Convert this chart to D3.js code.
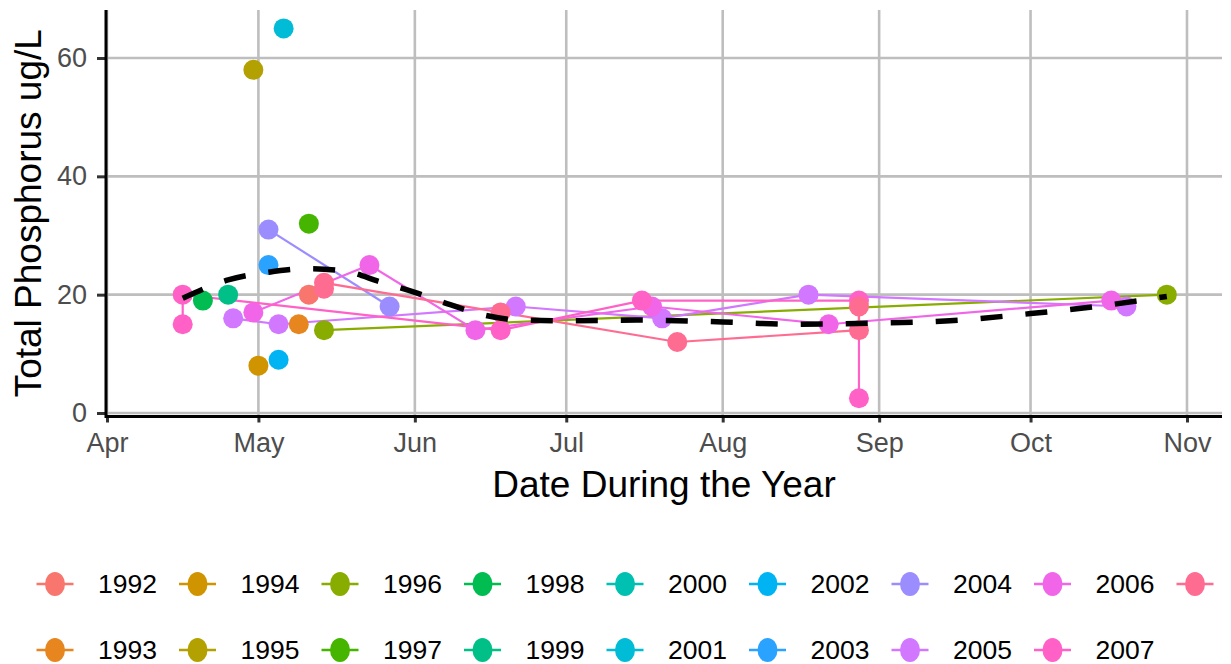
<!DOCTYPE html>
<html>
<head>
<meta charset="utf-8">
<script src="https://cdn.jsdelivr.net/npm/d3@7"></script>
<style>
  body { margin: 0; background: #fff; }
  text { font-family: "Liberation Sans", Arial, sans-serif; }
</style>
</head>
<body>
<div class="chart"></div>
<script>
// one entry per sample: year, day of the year (mm-dd), total phosphorus
const obsYear = [1992, 1993, 1994, 1995, 1996, 1996, 1997, 1998, 1999, 2001, 2002, 2003, 2004, 2004,
  2005, 2005, 2005, 2005, 2005, 2005,
  2006, 2006, 2006, 2006, 2006, 2006,
  2007, 2007, 2007, 2007, 2007, 2007,
  2008, 2008, 2008, 2008, 2008, 2008];
const obsDate = ["05-11", "05-09", "05-01", "04-30", "05-14", "10-28", "05-11", "04-20", "04-25", "05-06", "05-05", "05-03", "05-03", "05-27",
  "04-26", "05-05", "06-21", "07-20", "08-18", "10-20",
  "04-30", "05-23", "06-13", "07-18", "08-22", "10-17",
  "04-16", "04-16", "06-18", "07-16", "08-28", "08-28",
  "05-14", "05-14", "06-18", "07-23", "08-28", "08-28"];
const obsTP = [20, 15, 8, 58, 14, 20, 32, 19, 20, 65, 9, 25, 31, 18,
  16, 15, 18, 16, 20, 18,
  17, 25, 14, 18, 15, 19,
  15, 20, 14, 19, 19, 2.5,
  21, 22, 17, 12, 14, 18];

// smoothed trend (dashed)
const trendDate = ["04-16", "04-25", "05-03", "05-11", "05-18", "05-25", "06-01", "06-08", "06-15", "06-22",
  "07-01", "07-15", "08-01", "08-15", "09-01", "09-15", "10-01", "10-15", "10-28"];
const trendTP = [19.4, 22.5, 23.8, 24.4, 24.0, 22.2, 20.4, 18.3, 16.5, 15.7,
  15.6, 15.7, 15.4, 15.0, 15.2, 15.6, 16.8, 18.1, 19.7];

const years = ["1992", "1993", "1994", "1995", "1996", "1997", "1998", "1999", "2000",
  "2001", "2002", "2003", "2004", "2005", "2006", "2007", "2008"];
const yearColors = ["#F8766D", "#E7851E", "#D09400", "#B2A100", "#89AC00", "#45B500", "#00BC51", "#00C087", "#00C0B2",
  "#00BCD6", "#00B3F2", "#29A3FF", "#9C8DFF", "#D277FF", "#F166E8", "#FF61C7", "#FF6C91"];

const yTicks = [0, 20, 40, 60];
const monthTicks = ["04-01", "05-01", "06-01", "07-01", "08-01", "09-01", "10-01", "11-01"];

let dims = { width: 1231, height: 664 };
const panel = { left: 106, right: 1222, top: 10, bottom: 416.5 };

const toDate = (md) => new Date(Date.UTC(2001, +md.slice(0, 2) - 1, +md.slice(3)));

let x = d3.scaleUtc().domain([toDate("04-01"), toDate("11-01")]).range([107, 1187]);
let y = d3.scaleLinear().domain([0, 60]).range([413, 58]);
let color = d3.scaleOrdinal().domain(years).range(yearColors);

let svg = d3.select(".chart").append("svg")
  .attr("width", dims.width)
  .attr("height", dims.height);

// grid
let grid = svg.append("g").attr("class", "grid");
grid.selectAll(".gy").data(yTicks).join("line")
  .attr("x1", panel.left).attr("x2", panel.right)
  .attr("y1", d => y(d)).attr("y2", d => y(d))
  .attr("stroke", "#bebebe").attr("stroke-width", 2.6);
grid.selectAll(".gx").data(monthTicks).join("line")
  .attr("x1", d => x(toDate(d))).attr("x2", d => x(toDate(d)))
  .attr("y1", panel.top).attr("y2", panel.bottom)
  .attr("stroke", "#bebebe").attr("stroke-width", 2.6);

// axes
let xAxis = svg.append("g")
  .attr("transform", `translate(0, ${panel.bottom})`)
  .call(d3.axisBottom(x).tickValues(monthTicks.map(toDate)).tickFormat(d3.utcFormat("%b")).tickSize(6).tickPadding(10));
let yAxis = svg.append("g")
  .attr("transform", `translate(${panel.left}, 0)`)
  .call(d3.axisLeft(y).tickValues(yTicks).tickSize(9).tickPadding(10));

[xAxis, yAxis].forEach(ax => {
  ax.select(".domain").remove();
  ax.selectAll(".tick line").attr("stroke", "#333").attr("stroke-width", 3);
  ax.selectAll(".tick text").attr("fill", "#4d4d4d").style("font-size", "27px").attr("font-family", null);
});

svg.append("line")
  .attr("x1", panel.left).attr("x2", panel.right)
  .attr("y1", panel.bottom).attr("y2", panel.bottom)
  .attr("stroke", "#000").attr("stroke-width", 3);
svg.append("line")
  .attr("x1", panel.left).attr("x2", panel.left)
  .attr("y1", panel.top).attr("y2", panel.bottom + 1.5)
  .attr("stroke", "#000").attr("stroke-width", 3);

// observations
const obs = obsYear.map((yr, i) => ({ year: String(yr), date: toDate(obsDate[i]), tp: obsTP[i] }));
const byYear = d3.groups(obs, d => d.year);

let line = d3.line().x(d => x(d.date)).y(d => y(d.tp));

svg.append("g").selectAll("path").data(byYear).join("path")
  .attr("d", d => line(d[1]))
  .attr("fill", "none")
  .attr("stroke", d => color(d[0]))
  .attr("stroke-width", 2.2);

svg.append("g").selectAll("circle").data(obs).join("circle")
  .attr("cx", d => x(d.date))
  .attr("cy", d => y(d.tp))
  .attr("r", 10)
  .attr("fill", d => color(d.year));

// trend
const trend = trendDate.map((d, i) => ({ date: toDate(d), tp: trendTP[i] }));
svg.append("path")
  .attr("d", line.curve(d3.curveMonotoneX)(trend))
  .attr("fill", "none")
  .attr("stroke", "#000")
  .attr("stroke-width", 5.5)
  .attr("stroke-dasharray", "22 23");

// axis titles
svg.append("text")
  .attr("x", (panel.left + panel.right) / 2)
  .attr("y", 497)
  .attr("text-anchor", "middle")
  .style("font-size", "37px")
  .text("Date During the Year");
svg.append("text")
  .attr("transform", `translate(41, ${(panel.top + panel.bottom) / 2}) rotate(-90)`)
  .attr("text-anchor", "middle")
  .style("font-size", "37px")
  .text("Total Phosphorus ug/L");

// legend, filled column by column in two rows (last label runs off the page)
let legend = svg.append("g").attr("class", "legend");
let keys = legend.selectAll("g").data(years).join("g")
  .attr("transform", (d, i) => `translate(${55 + Math.floor(i / 2) * 142.5}, ${584 + (i % 2) * 66})`);
keys.append("line")
  .attr("x1", -18.5).attr("x2", 18.5)
  .attr("stroke", d => color(d)).attr("stroke-width", 2.4);
keys.append("ellipse")
  .attr("rx", 10).attr("ry", 12)
  .attr("fill", d => color(d));
keys.filter((d, i) => 55 + Math.floor(i / 2) * 142.5 + 43 < dims.width - 60)
  .append("text")
  .attr("x", 43)
  .attr("dy", "0.35em")
  .style("font-size", "26.5px")
  .text(d => d);
</script>
</body>
</html>
